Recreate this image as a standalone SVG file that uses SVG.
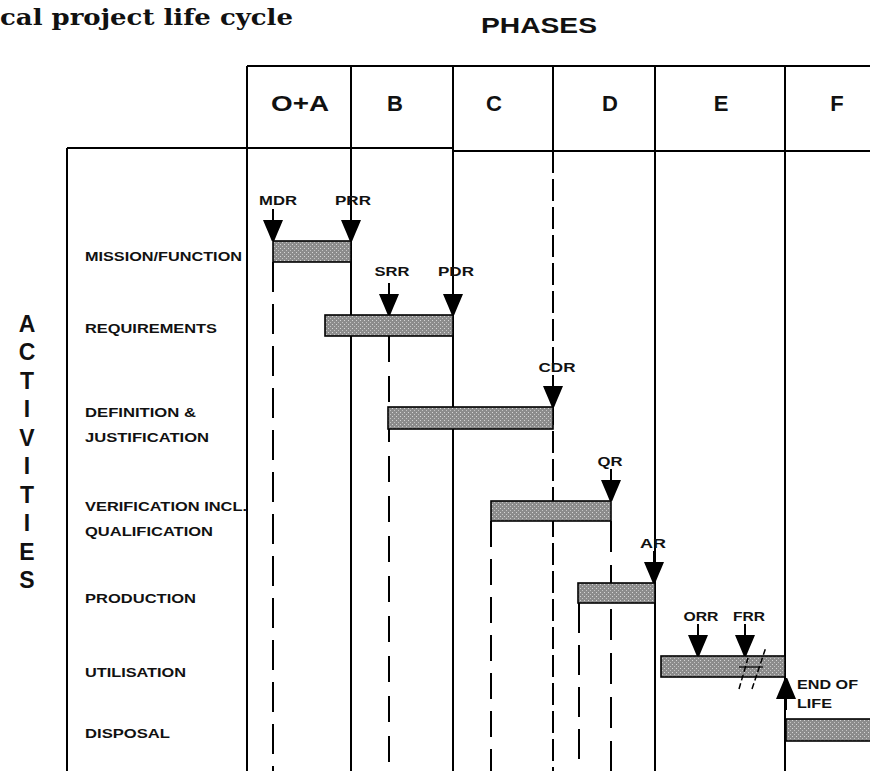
<svg xmlns="http://www.w3.org/2000/svg" xmlns:xlink="http://www.w3.org/1999/xlink" width="870" height="771" viewBox="0 0 870 771">
<defs>
<pattern id="dots" width="4" height="4" patternUnits="userSpaceOnUse">
<rect width="4" height="4" fill="#8c8c8c"/>
<rect x="0" y="0" width="1" height="1" fill="#d6d6d6"/>
<rect x="2" y="2" width="1" height="1" fill="#c4c4c4"/>
</pattern>
<path id="dn" d="M-10,-21 H10 L7.5,-15 L4.5,-8 L1.2,0 H-1.2 L-4.5,-8 L-7.5,-15 Z M-1,-32 H1 V-20 H-1 Z" fill="#000"/>
</defs>
<style>
.ln{stroke:#000;stroke-width:2;fill:none}
.dl{stroke:#000;stroke-width:2;fill:none;stroke-dasharray:28 12}
.bar{fill:url(#dots);stroke:#000;stroke-width:1.6}
.t{font-family:"Liberation Sans",Arial,sans-serif;font-weight:bold;fill:#111}
.lbl{font-size:12px}
.ms{font-size:12px;text-anchor:middle}
.hd{font-size:22px;text-anchor:middle}
.ac{font-size:23px;text-anchor:middle}
</style>
<rect width="870" height="771" fill="#fff"/>

<g id="title">
<text x="0" y="25" font-family="DejaVu Serif,serif" font-weight="bold" font-size="23" textLength="293" lengthAdjust="spacingAndGlyphs" fill="#111">cal project life cycle</text>
<text class="t" x="539" y="33" font-size="22" text-anchor="middle" textLength="116" lengthAdjust="spacingAndGlyphs">PHASES</text>
</g>

<g id="connectors">
<path class="ln" d="M247,66 H870 M67,148 H453 M453,151 H870 M67,148 V771 M247,66 V771 M351,66 V771 M453,66 V771 M553,66 V151 M655,66 V771 M785,66 V771"/>
<path class="dl" d="M553,151 V771" style="stroke-dasharray:22 6"/>
<path class="dl" d="M273,262 V771" style="stroke-dasharray:30 12"/>
<path class="dl" d="M389,336 V771" style="stroke-dasharray:26 14"/>
<path class="dl" d="M491,521 V771" style="stroke-dasharray:26 12"/>
<path class="dl" d="M579,603 V771" style="stroke-dasharray:30 12"/>
<path class="dl" d="M611,521 V771" style="stroke-dasharray:31 13"/>
</g>

<g id="phases">
<text class="t hd" x="300" y="111" textLength="58" lengthAdjust="spacingAndGlyphs">O+A</text>
<text class="t hd" x="395" y="111">B</text>
<text class="t hd" x="494" y="111">C</text>
<text class="t hd" x="610" y="111">D</text>
<text class="t hd" x="721" y="111">E</text>
<text class="t hd" x="837" y="111">F</text>
</g>

<g id="activities-axis">
<text class="t ac" x="27" y="332">A</text>
<text class="t ac" x="27" y="360">C</text>
<text class="t ac" x="27" y="389">T</text>
<text class="t ac" x="27" y="417">I</text>
<text class="t ac" x="27" y="446">V</text>
<text class="t ac" x="27" y="474">I</text>
<text class="t ac" x="27" y="503">T</text>
<text class="t ac" x="27" y="531">I</text>
<text class="t ac" x="27" y="560">E</text>
<text class="t ac" x="27" y="588">S</text>
</g>

<g id="labels">
<text class="t lbl" x="85" y="261" textLength="157" lengthAdjust="spacingAndGlyphs">MISSION/FUNCTION</text>
<text class="t lbl" x="85" y="333" textLength="132" lengthAdjust="spacingAndGlyphs">REQUIREMENTS</text>
<text class="t lbl" x="85" y="417" textLength="111" lengthAdjust="spacingAndGlyphs">DEFINITION &amp;</text>
<text class="t lbl" x="85" y="442" textLength="124" lengthAdjust="spacingAndGlyphs">JUSTIFICATION</text>
<text class="t lbl" x="85" y="511" textLength="162" lengthAdjust="spacingAndGlyphs">VERIFICATION INCL.</text>
<text class="t lbl" x="85" y="536" textLength="128" lengthAdjust="spacingAndGlyphs">QUALIFICATION</text>
<text class="t lbl" x="85" y="603" textLength="111" lengthAdjust="spacingAndGlyphs">PRODUCTION</text>
<text class="t lbl" x="85" y="677" textLength="101" lengthAdjust="spacingAndGlyphs">UTILISATION</text>
<text class="t lbl" x="85" y="738" textLength="85" lengthAdjust="spacingAndGlyphs">DISPOSAL</text>
</g>

<g id="bar-mission"><rect class="bar" x="273" y="241" width="78" height="21"/></g>
<g id="bar-requirements"><rect class="bar" x="325" y="315" width="128" height="21"/></g>
<g id="bar-definition"><rect class="bar" x="388" y="407" width="165" height="22"/></g>
<g id="bar-verification"><rect class="bar" x="491" y="501" width="120" height="20"/></g>
<g id="bar-production"><rect class="bar" x="578" y="583" width="77" height="20"/></g>
<g id="bar-utilisation">
<rect class="bar" x="661" y="656" width="124" height="21"/>
<path d="M739,689 L748,658 M752,689 L766,647" stroke="#000" stroke-width="1.5" fill="none" stroke-dasharray="6 3"/>
<path d="M739,667 H763" stroke="#000" stroke-width="1.2"/>
</g>
<g id="bar-disposal"><rect class="bar" x="786" y="719" width="86" height="22"/></g>

<g id="ms-mdr"><use xlink:href="#dn" x="273" y="241"/><text class="t ms" x="278" y="205" textLength="38" lengthAdjust="spacingAndGlyphs">MDR</text></g>
<g id="ms-prr"><use xlink:href="#dn" x="351" y="241"/><text class="t ms" x="353" y="205" textLength="36" lengthAdjust="spacingAndGlyphs">PRR</text></g>
<g id="ms-srr"><use xlink:href="#dn" x="389" y="315"/><text class="t ms" x="392" y="276" textLength="35" lengthAdjust="spacingAndGlyphs">SRR</text></g>
<g id="ms-pdr"><use xlink:href="#dn" x="453" y="315"/><text class="t ms" x="456" y="276" textLength="36" lengthAdjust="spacingAndGlyphs">PDR</text></g>
<g id="ms-cdr"><use xlink:href="#dn" x="553" y="407"/><text class="t ms" x="557" y="372" textLength="37" lengthAdjust="spacingAndGlyphs">CDR</text></g>
<g id="ms-qr"><use xlink:href="#dn" x="611" y="501"/><text class="t ms" x="610" y="466" textLength="25" lengthAdjust="spacingAndGlyphs">QR</text></g>
<g id="ms-ar"><use xlink:href="#dn" x="654" y="583"/><text class="t ms" x="653" y="548" textLength="26" lengthAdjust="spacingAndGlyphs">AR</text></g>
<g id="ms-orr"><use xlink:href="#dn" x="698" y="656"/><text class="t ms" x="701" y="621" textLength="35" lengthAdjust="spacingAndGlyphs">ORR</text></g>
<g id="ms-frr"><use xlink:href="#dn" x="745" y="656"/><text class="t ms" x="749" y="621" textLength="32" lengthAdjust="spacingAndGlyphs">FRR</text></g>
<g id="ms-eol">
<use xlink:href="#dn" transform="translate(786,678) scale(1,-1)"/>
<text class="t lbl" x="797" y="689" textLength="61" lengthAdjust="spacingAndGlyphs">END OF</text>
<text class="t lbl" x="797" y="708" textLength="35" lengthAdjust="spacingAndGlyphs">LIFE</text>
</g>
</svg>
